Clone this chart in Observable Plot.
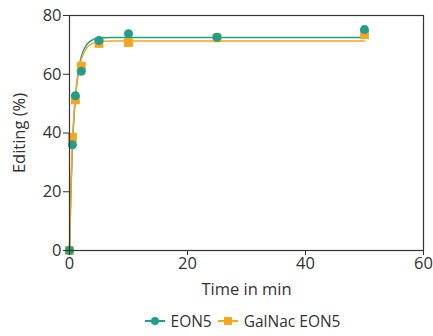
<!DOCTYPE html>
<html><head><meta charset="utf-8">
<script src="https://cdn.jsdelivr.net/npm/d3@7"></script>
<script src="https://cdn.jsdelivr.net/npm/@observablehq/plot@0.6"></script>
<style>
body{margin:0;background:#fff;font-family:"Open Sans",sans-serif;}
#legend{display:flex;justify-content:center;align-items:center;gap:6px;font-size:15.5px;color:#333;margin-left:52px;margin-top:10px;}
.item{display:flex;align-items:center;gap:6px;}
</style></head><body>
<div id="chart"></div>
<div id="legend"></div>
<script>
const seriesNames = ["EON5", "GalNac EON5"];
const colors = ["#1f9e8a", "#f9a51e"];
const times = [0, 0.5, 1, 2, 5, 10, 25, 50];
const eon5 = [0, 36, 52.7, 61, 71.5, 73.8, 72.6, 75.2];
const galnac = [0, 38.5, 51.3, 62.7, 70.5, 70.8, 72.4, 73.5];
// fitted curves
const fitTimes = [0, 0.25, 0.5, 0.75, 1, 1.5, 2, 3, 4, 5, 7, 10, 50];
const fitEon5 = [0, 21, 35, 45, 52, 61, 66, 70.3, 71.8, 72.3, 72.5, 72.5, 72.5];
const fitGalnac = [0, 22, 37, 46, 52.5, 60.5, 65, 69.2, 70.6, 71.1, 71.3, 71.3, 71.3];

const pts = [];
times.forEach((t,i)=>{pts.push({t, v:eon5[i], s:seriesNames[0]}); pts.push({t, v:galnac[i], s:seriesNames[1]});});
const fit = [];
fitTimes.forEach((t,i)=>fit.push({t, v:fitEon5[i], s:seriesNames[0]}));
fitTimes.forEach((t,i)=>fit.push({t, v:fitGalnac[i], s:seriesNames[1]}));

const plot = Plot.plot({
  width: 433, height: 300,
  marginLeft: 69, marginRight: 10, marginTop: 15, marginBottom: 50,
  style: {fontFamily: '"Open Sans", sans-serif', fontSize: "16px", color: "#333"},
  x: {domain: [0, 60]},
  y: {domain: [0, 80]},
  color: {domain: seriesNames, range: colors},
  marks: [
    Plot.line(fit, {x: "t", y: "v", stroke: "s", curve: "monotone-x", strokeWidth: 1.5}),
    Plot.dot(pts.filter(d=>d.s===seriesNames[1]), {x: "t", y: "v", fill: "s", symbol: "square", r: 5}),
    Plot.dot(pts.filter(d=>d.s===seriesNames[0]), {x: "t", y: "v", fill: "s", symbol: "circle", r: 4.5}),
    Plot.frame({stroke: "#333", strokeWidth: 1.2}),
    Plot.axisX({ticks: [0,20,40,60], tickSize: 5, tickPadding: 2, label: "Time in min", labelAnchor: "center", labelArrow: "none", labelOffset: 44, fontSize: 16.5}),
    Plot.axisY({ticks: [0,20,40,60,80], tickSize: 6, tickPadding: 2, label: "Editing (%)", labelAnchor: "center", labelArrow: "none", labelOffset: 56, fontSize: 16.5})
  ]
});
document.getElementById("chart").appendChild(plot);

const leg = document.getElementById("legend");
seriesNames.forEach((n,i)=>{
  const it = document.createElement("div"); it.className="item";
  const sym = i===0 ? `<circle cx="10" cy="6" r="4" fill="${colors[i]}"/>` : `<rect x="6" y="2" width="8" height="8" fill="${colors[i]}"/>`;
  it.innerHTML = `<svg width="20" height="12"><line x1="0" x2="20" y1="6" y2="6" stroke="${colors[i]}" stroke-width="2"/>${sym}</svg><span>${n}</span>`;
  leg.appendChild(it);
});
</script></body></html>
